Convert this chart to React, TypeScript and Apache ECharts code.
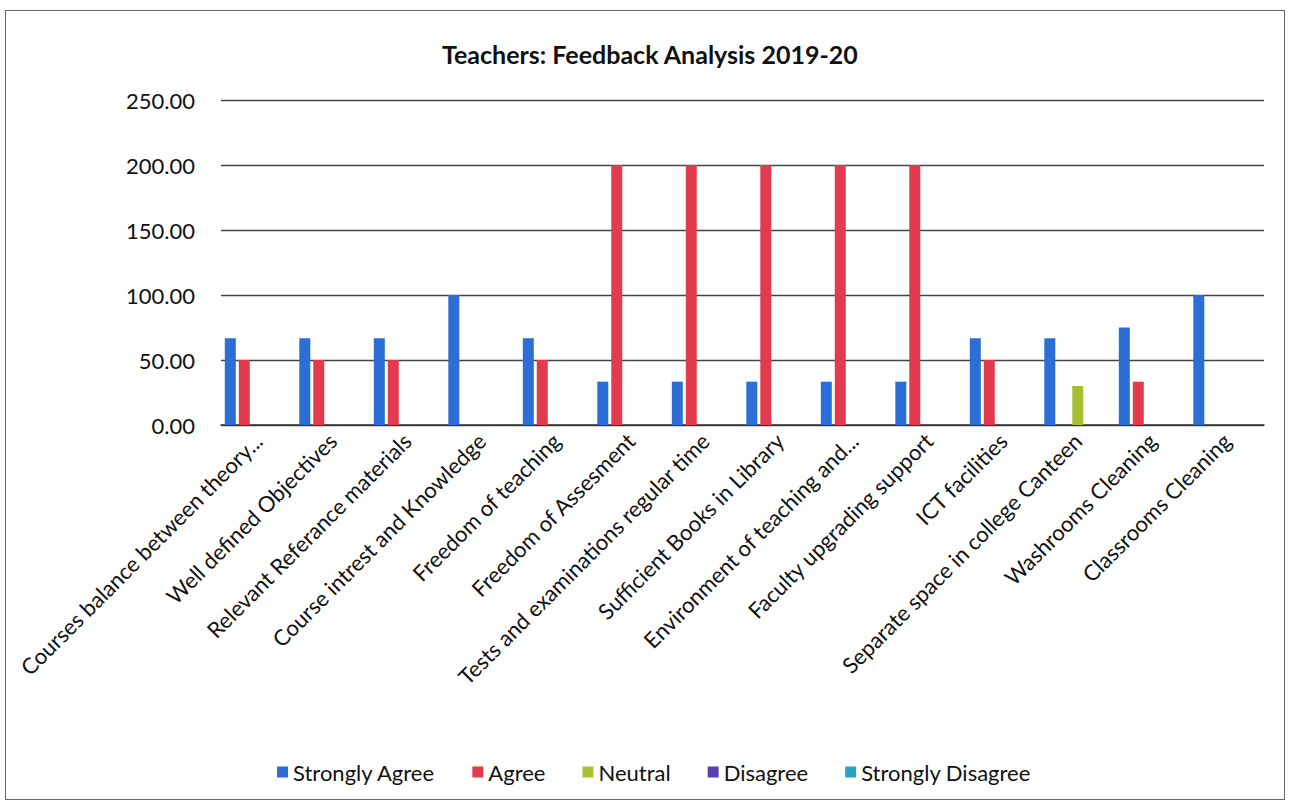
import React, { useEffect, useRef } from "react";
import * as echarts from "echarts";

const categories = [
  "Courses balance between theory...",
  "Well defined Objectives",
  "Relevant Referance materials",
  "Course intrest and Knowledge",
  "Freedom of teaching",
  "Freedom of Assesment",
  "Tests and examinations regular time",
  "Sufficient Books in Library",
  "Environment of teaching and...",
  "Faculty upgrading support",
  "ICT facilities",
  "Separate space in college Canteen",
  "Washrooms Cleaning",
  "Classrooms Cleaning",
];

const stronglyAgree = [66.67, 66.67, 66.67, 100, 66.67, 33.33, 33.33, 33.33, 33.33, 33.33, 66.67, 66.67, 75, 100];
const agree = [50, 50, 50, 0, 50, 200, 200, 200, 200, 200, 50, 0, 33.33, 0];
const neutral = [0, 0, 0, 0, 0, 0, 0, 0, 0, 0, 0, 30, 0, 0];
const disagree = [0, 0, 0, 0, 0, 0, 0, 0, 0, 0, 0, 0, 0, 0];
const stronglyDisagree = [0, 0, 0, 0, 0, 0, 0, 0, 0, 0, 0, 0, 0, 0];

const seriesNames = ["Strongly Agree", "Agree", "Neutral", "Disagree", "Strongly Disagree"];
const seriesColors = ["#2b6fd6", "#e23b4e", "#a8bf32", "#5a3fae", "#2ba3c9"];
const yTicks = { min: 0, max: 250, interval: 50 };

export default function App() {
  const ref = useRef<HTMLDivElement>(null);
  useEffect(() => {
    if (!ref.current) return;
    const chart = echarts.init(ref.current, null, { renderer: "svg" });
    const data = [stronglyAgree, agree, neutral, disagree, stronglyDisagree];
    const font = "Lato, 'Open Sans', sans-serif";
    chart.setOption({
      animation: false,
      textStyle: { fontFamily: font, color: "#111" },
      title: {
        text: "Teachers: Feedback Analysis 2019-20",
        left: 437,
        top: 36,
        textStyle: { fontFamily: font, fontSize: 25, fontWeight: "bold", color: "#111" },
      },
      legend: {
        top: 756,
        left: 272,
        itemWidth: 11,
        itemHeight: 11,
        itemGap: 37,
        icon: "rect",
        textStyle: { fontFamily: font, fontSize: 22, color: "#111" },
        data: seriesNames,
      },
      grid: { left: 221, right: 26, top: 100, bottom: 378, containLabel: false },
      xAxis: {
        type: "category",
        data: categories,
        axisLine: { lineStyle: { color: "#333", width: 1.5 } },
        axisTick: { show: false },
        axisLabel: {
          rotate: 45,
          interval: 0,
          fontSize: 22,
          color: "#111",
          fontFamily: font,
          margin: 12,
        },
      },
      yAxis: {
        type: "value",
        min: yTicks.min,
        max: yTicks.max,
        interval: yTicks.interval,
        axisLine: { show: false },
        axisTick: { show: false },
        axisLabel: {
          fontSize: 22,
          color: "#111",
          fontFamily: font,
          margin: 26,
          formatter: (v: number) => v.toFixed(2),
        },
        splitLine: { lineStyle: { color: "#444", width: 1.4 } },
      },
      series: seriesNames.map((name, i) => ({
        name,
        type: "bar",
        data: data[i],
        barWidth: 11,
        barGap: "27%",
        itemStyle: { color: seriesColors[i] },
      })),
    });
    return () => chart.dispose();
  }, []);
  return (
    <div
      style={{
        position: "fixed",
        left: 0,
        top: 0,
        width: 1290,
        height: 803,
        background: "#fff",
      }}
    >
      <div
        style={{
          position: "absolute",
          left: 5,
          top: 10,
          width: 1280,
          height: 790,
          border: "1px solid #666",
          boxSizing: "border-box",
        }}
      />
      <div ref={ref} style={{ position: "absolute", left: 0, top: 0, width: 1290, height: 803 }} />
    </div>
  );
}
